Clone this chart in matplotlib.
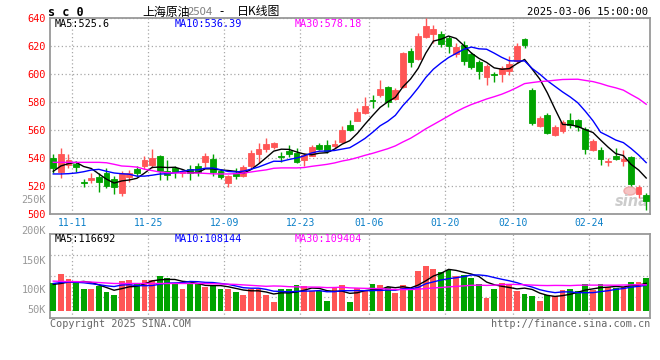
import matplotlib
matplotlib.use("Agg")
import matplotlib.pyplot as plt
from matplotlib.patches import Ellipse
import pandas as pd

# x tick dates (index of the candle left of each grid line)
tick_idx = [2, 12, 22, 32, 41, 51, 60, 70]
tick_labels = ["11-11", "11-25", "12-09", "12-23", "01-06", "01-20", "02-10", "02-24"]

opens = [540, 530, 535, 535.5, 523, 524.5, 526.5, 529, 525, 515,
         526.5, 532, 534, 535, 541.5, 531, 533, 529.3, 532, 534,
         537, 539.5, 530.5, 522, 529, 527.5, 534, 543, 546.5, 547.6,
         541.3, 545.2, 543.3, 538.8, 541.7, 549.3, 549.3, 548.3, 551.2, 563.8,
         566.7, 572.1, 581.5, 584.8, 590.5, 582.1, 591, 616.4, 610.7, 626.7,
         628.4, 628.5, 625.5, 614.5, 621, 614.6, 608.8, 598, 600, 600,
         602.5, 609, 625, 588.7, 563.2, 571, 556.5, 559, 567, 567,
         560.6, 546, 545.8, 537, 541.5, 537.8, 541, 514.5, 513.7]
closes = [533, 542.6, 538.5, 533.5, 522, 526, 523, 520, 519.5, 529.5,
          529.5, 529, 538.5, 540, 530.5, 528, 530, 530.5, 529.3, 530,
          541.5, 530, 526.5, 527.4, 527, 533.8, 543.8, 546.4, 550, 550.5,
          540.8, 543, 537.5, 542.4, 547.9, 546.4, 544.8, 550.2, 560.2, 560.2,
          572.6, 577.4, 581, 589.5, 580, 588.8, 615, 608.8, 627.4, 634.3,
          632.1, 621.5, 620.2, 619, 609, 605.2, 602.3, 606, 599.5, 604,
          607.5, 620, 621, 565, 568.4, 558, 562.5, 566, 563.7, 562.5,
          546.3, 552.5, 539.2, 538, 539.5, 539.5, 521.2, 519, 509.3]
highs = [543, 547, 543, 538, 525, 529, 529.5, 533, 527, 531,
         531.5, 534.5, 541.5, 546.5, 542, 538.5, 534, 531.7, 535, 536.5,
         543.5, 543, 532, 527.6, 533, 535, 546, 550.5, 554, 551.2,
         544, 549, 547, 543.6, 549.5, 550.7, 552.6, 553, 562.6, 567.4,
         575.7, 583.6, 585.2, 595.5, 591.2, 590, 616, 618.3, 629, 640,
         635, 630.5, 627.5, 622, 623.8, 616, 610, 607.5, 601.7, 606,
         613, 622, 626, 589.8, 570, 572, 563.5, 567.5, 572.5, 567.8,
         562.5, 553.5, 548, 540, 547, 546, 541.5, 520.5, 515.3]
lows = [529, 526, 533, 530, 519.5, 522, 516, 518.5, 514.5, 513,
        523, 527, 532.5, 533, 524.5, 524, 526, 526.5, 524, 527,
        533.5, 527, 525, 519, 525, 526.7, 532.5, 536.7, 544.5, 546.4,
        537.5, 541, 536.5, 534.5, 541.2, 545.5, 543.6, 547, 550.7, 559,
        566.2, 571.7, 575.7, 583.6, 576.4, 581.7, 590, 605.2, 610, 625.5,
        622, 619.5, 615, 612.5, 606.4, 603.3, 596.5, 592, 594.5, 594,
        599.3, 607.6, 618.3, 563.7, 562.4, 557, 555.8, 558, 561.5, 559.5,
        543, 545, 535, 534, 538.7, 534.5, 520, 511.3, 503]
# volume in thousands
volumes = [116, 156, 135, 125, 92, 92, 105, 80, 67, 126,
           131, 116, 131, 131, 148, 141, 114, 92, 116, 116,
           102, 109, 92, 92, 81, 67, 92, 92, 67, 38,
           92, 92, 109, 105, 85, 85, 43, 95, 109, 38,
           98, 88, 114, 109, 102, 77, 109, 88, 170, 192,
           179, 166, 173, 148, 152, 141, 114, 55, 92, 119,
           114, 85, 71, 64, 41, 67, 62, 88, 92, 84,
           114, 88, 114, 102, 98, 102, 122, 122, 139]

ma5_head = [530.5, 534.3, 536, 536.9]
ma10_head = [528.6, 528.6, 528.8, 529.3, 530.2, 531.4, 531.9, 530.5, 529.3]
ma30_head = [536.9, 536.9, 536.9, 536.9, 536.9, 536.9, 536.9, 536.6, 535.5, 534.3,
             534, 533.5, 532, 531, 530, 529.5, 529.3, 529.3, 529.3, 529.3,
             529, 528.7, 528.6, 528.6, 528.8, 529.2, 530, 530.8, 531.5]
vma5_head = [112, 116, 122, 122]
vma10_head = [116, 120, 122, 121, 119, 115, 111, 106, 103]
vma30_head = [126, 125, 124, 124, 123, 122, 120, 118, 116, 116,
              116, 116, 116, 116, 116, 116, 116, 116, 116, 116,
              116, 115, 114, 113, 112, 110, 108, 106, 104]


def moving_average(values, n, head):
    ma = pd.Series(values, dtype=float).rolling(n).mean()
    ma.iloc[:len(head)] = head
    return ma


RED = "#ff5656"
GREEN = "#00a300"
GRID = "#a8a8a8"
FRAME = "#999999"
MONO = ["DejaVu Sans Mono"]
CJK = ["Noto Sans CJK SC", "DejaVu Sans"]

W, H = 660, 360


def fx(x):
    return x / W


def fy(y):
    return 1 - y / H


fig = plt.figure(figsize=(6.6, 3.6), dpi=100)
fig.patch.set_facecolor("white")
ax = fig.add_axes([fx(50), fy(214), 600 / W, 196 / H])
vax = fig.add_axes([fx(50), fy(318.3), 600 / W, 84 / H])

x = list(range(len(closes)))
up = [c >= o for o, c in zip(opens, closes)]
colors = [RED if u else GREEN for u in up]

# faint sina watermark behind the candles
ax.add_patch(Ellipse((fx(630), fy(191)), 12 / W, 8 / H, transform=fig.transFigure,
                     facecolor="#f6c4c4", edgecolor="#eeaaaa", zorder=1))
ax.text(fx(632), fy(202), "sina", transform=fig.transFigure, family=["DejaVu Sans"],
        fontsize=10.5, weight="bold", style="italic", color="#cccccc",
        ha="center", va="center", zorder=1)

# candles
ax.vlines(x, lows, highs, colors=colors, linewidth=1, zorder=3)
ax.bar(x, [c - o for o, c in zip(opens, closes)], bottom=opens, width=0.76,
       color=colors, edgecolor=colors, linewidth=0.6, zorder=4)

ax.plot(x, moving_average(closes, 5, ma5_head), color="black", lw=1, zorder=5)
ax.plot(x, moving_average(closes, 10, ma10_head), color="#0000ff", lw=1, zorder=5)
ax.plot(x, moving_average(closes, 30, ma30_head), color="#ff00ff", lw=1, zorder=5)

ax.set_xlim(-0.43, 78.5)
ax.set_ylim(500, 640)
ax.set_yticks(range(500, 641, 20))
ax.tick_params(axis="y", length=0, pad=3, labelcolor="#ff0000", labelsize=7.4)
ax.set_xticks([i + 0.5 for i in tick_idx])
ax.set_xticklabels(tick_labels)
ax.tick_params(axis="x", length=0, pad=3, labelcolor="#0a7fc8", labelsize=7.0)
for lab in ax.get_xticklabels() + ax.get_yticklabels():
    lab.set_family(MONO)
ax.grid(True, color=GRID, linestyle=(0, (1, 2)), linewidth=0.9, zorder=0)
ax.set_axisbelow(True)
for s in ax.spines.values():
    s.set_color(FRAME)
    s.set_linewidth(1.3)

# volume
vax.bar(x, volumes, width=0.76, color=colors, zorder=3)
vax.plot(x, moving_average(volumes, 5, vma5_head), color="black", lw=1, zorder=4)
vax.plot(x, moving_average(volumes, 10, vma10_head), color="#0000ff", lw=1, zorder=4)
vax.plot(x, moving_average(volumes, 30, vma30_head), color="#ff00ff", lw=1, zorder=4)
vax.set_xlim(-0.43, 78.5)
vax.set_ylim(-32, 325)
vax.set_yticks([])
vax.set_xticks([i + 0.5 for i in tick_idx])
vax.set_xticklabels([])
vax.tick_params(axis="x", length=0)
vax.grid(True, axis="x", color=GRID, linestyle=(0, (1, 2)), linewidth=0.9)
for f in (0.25, 0.5, 0.75):
    vax.plot([0, 1], [f, f], transform=vax.transAxes, color=GRID,
             linestyle=(0, (1, 2)), linewidth=0.9, zorder=1)
for s in vax.spines.values():
    s.set_color(FRAME)
    s.set_linewidth(1.3)

# texts
fig.text(fx(48), fy(12), "s c 0", family=MONO, fontsize=8.5, weight="bold", va="center")
fig.text(fx(142), fy(12), "上海原油", family=CJK, fontsize=8.6, va="center")
fig.text(fx(188), fy(12), "2504", family=CJK, fontsize=8.2, color="#808080", va="center")
fig.text(fx(219), fy(12), "-", family=CJK, fontsize=8.6, va="center")
fig.text(fx(237), fy(12), "日K线图", family=CJK, fontsize=8.6, va="center")
fig.text(fx(648), fy(12), "2025-03-06 15:00:00", family=MONO, fontsize=7.6,
         ha="right", va="center")

fig.text(fx(55), fy(24), "MA5:525.6", family=MONO, fontsize=7.3, color="black", va="center")
fig.text(fx(175), fy(24), "MA10:536.39", family=MONO, fontsize=7.3, color="#0000ff", va="center")
fig.text(fx(295), fy(24), "MA30:578.18", family=MONO, fontsize=7.3, color="#ff00ff", va="center")

fig.text(fx(55), fy(238.5), "MA5:116692", family=MONO, fontsize=7.3, color="black", va="center")
fig.text(fx(175), fy(238.5), "MA10:108144", family=MONO, fontsize=7.3, color="#0000ff", va="center")
fig.text(fx(295), fy(238.5), "MA30:109404", family=MONO, fontsize=7.3, color="#ff00ff", va="center")

for lab, yy in [("250K", 200), ("200K", 231), ("150K", 260.7), ("100K", 290), ("50K", 310)]:
    fig.text(fx(46), fy(yy), lab, family=MONO, fontsize=7.4, color="#999999",
             ha="right", va="center")

fig.text(fx(50), fy(324), "Copyright 2025 SINA.COM", family=MONO, fontsize=7.3,
         color="#666666", va="center")
fig.text(fx(650), fy(324), "http://finance.sina.com.cn", family=MONO, fontsize=7.3,
         color="#666666", ha="right", va="center")

fig.savefig("out.png", dpi=100)
